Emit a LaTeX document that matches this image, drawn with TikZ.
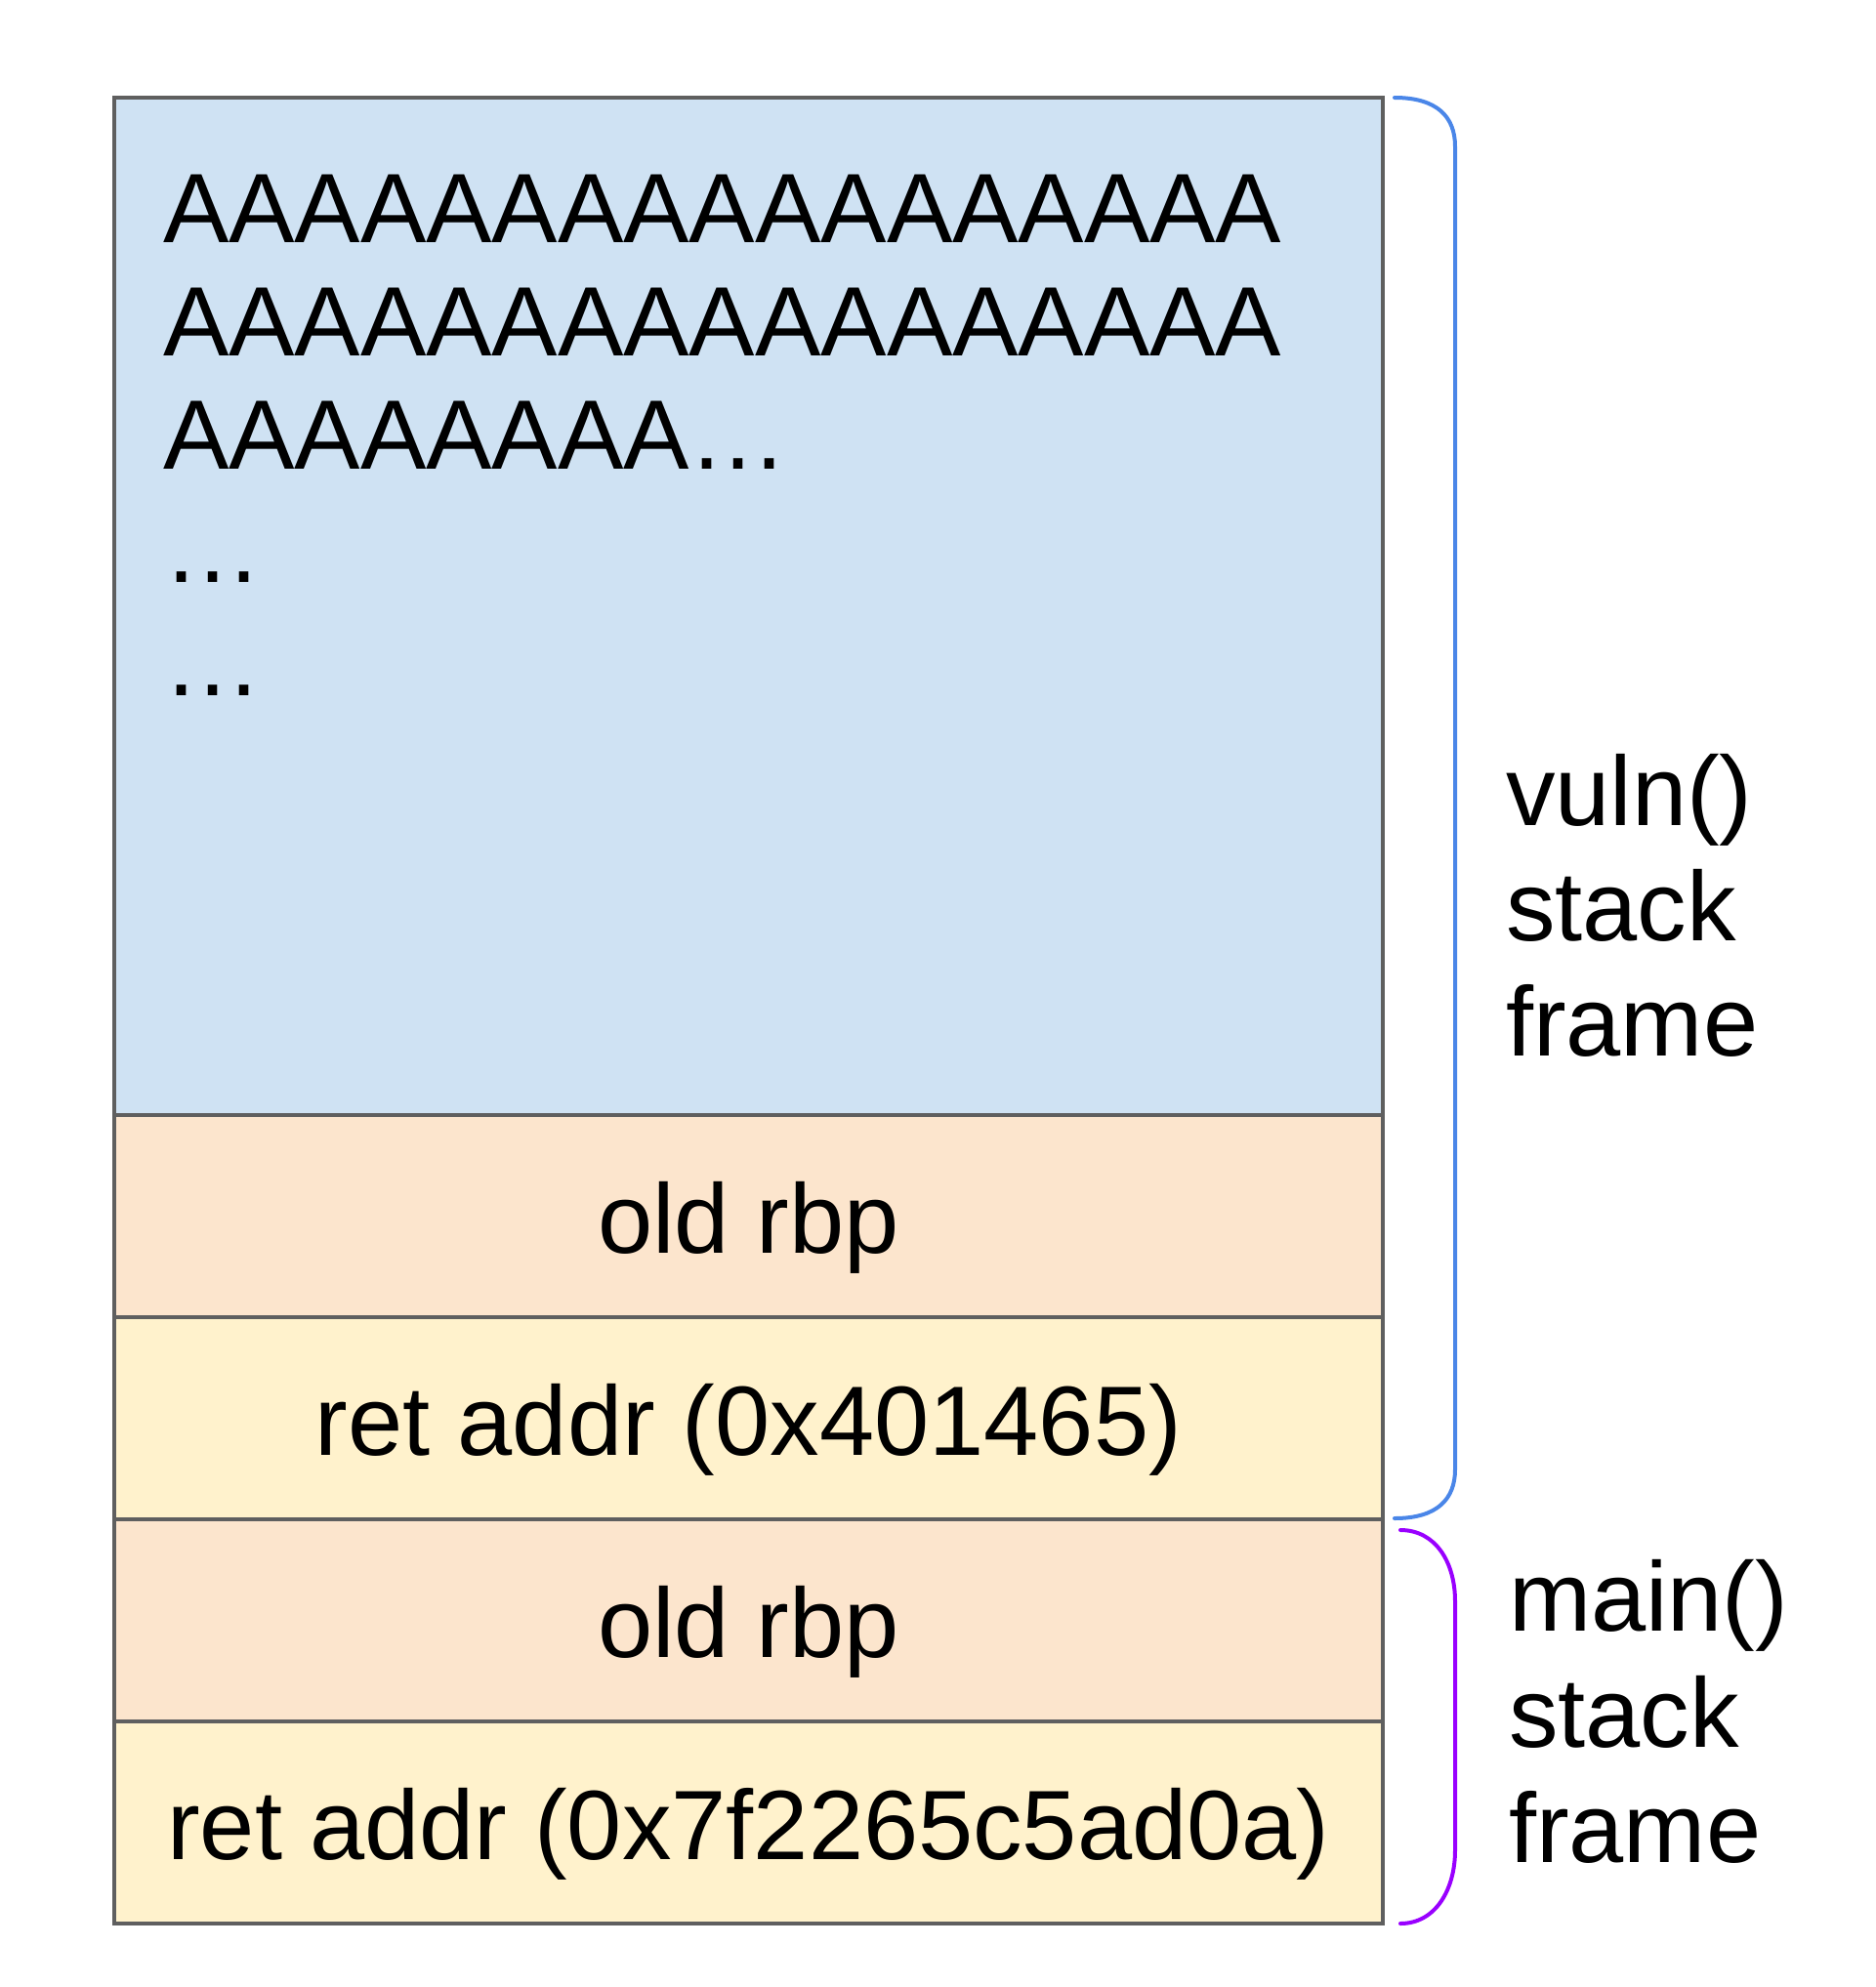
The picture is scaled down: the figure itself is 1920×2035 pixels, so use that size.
\documentclass[tikz,border=0pt]{standalone}
\usepackage{fontspec}
\setmainfont{Liberation Sans}
\definecolor{bufblue}{HTML}{CFE2F3}
\definecolor{peach}{HTML}{FCE5CD}
\definecolor{paleyellow}{HTML}{FFF2CC}
\definecolor{cellborder}{HTML}{5F5F5F}
\definecolor{vulnbrace}{HTML}{4A86E8}
\definecolor{mainbrace}{HTML}{9900FF}
\begin{document}
\begin{tikzpicture}[x=1pt,y=-1pt,
  cell/.style={draw=cellborder, line width=3.5pt, minimum width=1299pt, inner sep=0pt, outer sep=0pt, anchor=north west},
  txt/.style={font=\fontsize{101}{116}\selectfont, inner sep=0pt, outer sep=0pt},
  bracepath/.style={line width=4pt, line cap=round}]
\useasboundingbox (0,0) rectangle (1920,2035);
% stack cells
\node[cell, fill=bufblue, minimum height=1042pt] (buf) at (117,100) {};
\node[cell, fill=peach, minimum height=207pt] (rbpA) at (117,1142) {};
\node[cell, fill=paleyellow, minimum height=207pt] (retA) at (117,1349) {};
\node[cell, fill=peach, minimum height=207pt] (rbpB) at (117,1556) {};
\node[cell, fill=paleyellow, minimum height=207pt] (retB) at (117,1763) {};
% buffer contents
\node[txt, anchor=base west] (a1) at (167,248) {AAAAAAAAAAAAAAAAA};
\node[txt, anchor=base west] (a2) at (167,364) {AAAAAAAAAAAAAAAAA};
\node[txt, anchor=base west] (a3) at (167,480) {AAAAAAAA…};
\node[txt, anchor=base west] (d1) at (167,596) {…};
\node[txt, anchor=base west] (d2) at (167,712) {…};
% cell labels
\node[txt, anchor=base] (trbpA) at ([yshift=-38pt]rbpA.center) {old rbp};
\node[txt, anchor=base] (tretA) at ([yshift=-38pt]retA.center) {ret addr (0x401465)};
\node[txt, anchor=base] (trbpB) at ([yshift=-38pt]rbpB.center) {old rbp};
\node[txt, anchor=base] (tretB) at ([yshift=-38pt]retB.center) {ret addr (0x7f2265c5ad0a)};
% braces
\coordinate (vtop) at (1428,100);
\coordinate (vbot) at (1428,1555);
\draw[bracepath, draw=vulnbrace] (vtop) .. controls (1472,100) and (1490,120) .. (1490,150)
  -- (1490,1505) .. controls (1490,1535) and (1472,1555) .. (vbot);
\coordinate (mtop) at (1434,1567);
\coordinate (mbot) at (1434,1970);
\draw[bracepath, draw=mainbrace] (mtop) .. controls (1470,1567) and (1490,1600) .. (1490,1640)
  -- (1490,1895) .. controls (1490,1935) and (1470,1970) .. (mbot);
% frame labels
\node[txt, anchor=base west] (v1) at (1542,845) {vuln()};
\node[txt, anchor=base west] (v2) at (1542,963) {stack};
\node[txt, anchor=base west] (v3) at (1542,1081) {frame};
\node[txt, anchor=base west] (m1) at (1545,1670) {main()};
\node[txt, anchor=base west] (m2) at (1545,1789) {stack};
\node[txt, anchor=base west] (m3) at (1545,1907) {frame};
\end{tikzpicture}
\end{document}
